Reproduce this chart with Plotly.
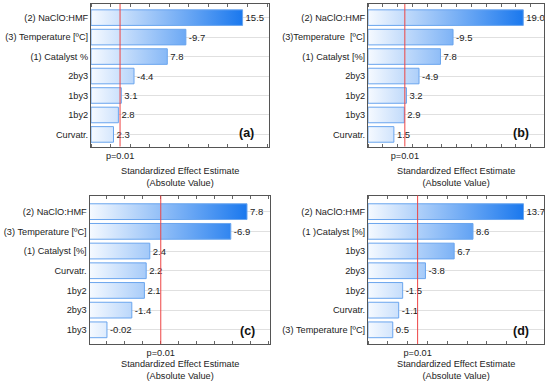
import plotly.graph_objects as go

# ---------------- data ----------------
labels_a = ["(2) NaClO:HMF", "(3) Temperature [ºC]", "(1) Catalyst %", "2by3", "1by3", "1by2", "Curvatr."]
values_a = [15.5, -9.7, 7.8, -4.4, 3.1, 2.8, 2.3]

labels_b = ["(2) NaClO:HMF", "(3)Temperature  [ºC]", "(1) Catalyst [%]", "2by3", "1by2", "1by3", "Curvatr."]
values_b = [19.0, -9.5, 7.8, -4.9, 3.2, 2.9, 1.5]

labels_c = ["(2) NaClO:HMF", "(3) Temperature [ºC]", "(1) Catalyst [%]", "Curvatr.", "1by2", "2by3", "1by3"]
values_c = [7.8, -6.9, 2.4, 2.2, 2.1, -1.4, -0.02]

labels_d = ["(2) NaClO:HMF", "(1 )Catalyst [%]", "1by3", "2by3", "1by2", "Curvatr.", "(3) Temperature [ºC]"]
values_d = [13.7, 8.6, 6.7, -3.8, -1.5, -1.1, 0.5]

panel_tags = ["(a)", "(b)", "(c)", "(d)"]
p_critical = [2.97, 2.98, 3.01, 3.01]
x_ranges = [[0, 18.2], [-2, 21.8], [-0.95, 9.05], [-2, 15.8]]
x_tick_step = [2, 2, 1, 2]
p_label = "p=0.01"
x_title = "Standardized Effect Estimate<br>(Absolute Value)"

# ---------------- styling / layout ----------------
FONT = "Liberation Sans, Arial, sans-serif"
TXT = "#222222"
FRAME = "#555555"
OUTLINE = "#6aa5ee"
GRAD = [[0, "#f6faff"], [1, "#1a78ee"]]
RED = "#ee4444"
W, H = 550, 385
FS = 9.2

# plot-area pixel boxes: (left, right, top, bottom)
boxes = [(91, 269, 4, 146.5), (368, 544, 4, 146.5),
         (89.5, 269.5, 195.5, 344), (368, 544.3, 195.5, 344)]
title_y = [177, 177, 369.5, 369.5]
y_ranges = [[6.62, -0.7], [6.62, -0.7], [6.72, -0.82], [6.72, -0.82]]

panels = [(labels_a, values_a), (labels_b, values_b), (labels_c, values_c), (labels_d, values_d)]

fig = go.Figure()
annotations = []
shapes = []
half = 0.4


def fmt(v):
    return f"{v:.2f}" if abs(v) < 0.1 else f"{v:.1f}"


for k, ((labels, values), box) in enumerate(zip(panels, boxes)):
    n = k + 1
    xa = "x" if n == 1 else f"x{n}"
    ya = "y" if n == 1 else f"y{n}"
    xmin, xmax = x_ranges[k]
    mags = [abs(v) for v in values]
    vmax = max(mags)
    pos = list(range(len(labels)))

    # invisible bars carrying the value labels
    fig.add_trace(go.Bar(
        orientation="h", y=pos, x=[m - xmin for m in mags], base=xmin, width=2 * half,
        marker=dict(color="rgba(0,0,0,0)", line=dict(width=0)),
        text=[fmt(v) for v in values], textposition="outside", constraintext="none",
        textfont=dict(family=FONT, size=FS + 0.3, color=TXT), cliponaxis=False,
        hoverinfo="skip", showlegend=False, xaxis=xa, yaxis=ya))

    # gradient-filled bar bodies
    for i, m in zip(pos, mags):
        fig.add_trace(go.Scatter(
            x=[xmin, m, m, xmin, xmin],
            y=[i - half, i - half, i + half, i + half, i - half],
            mode="lines", fill="toself",
            fillgradient=dict(type="horizontal", colorscale=GRAD, start=xmin, stop=vmax),
            line=dict(color=OUTLINE, width=1),
            hoverinfo="skip", showlegend=False, xaxis=xa, yaxis=ya))

    l, r, t, b = box
    xdom = [l / W, r / W]
    ydom = [1 - b / H, 1 - t / H]
    fig.layout[f"xaxis{'' if n == 1 else n}"] = dict(
        domain=xdom, range=[xmin, xmax], anchor=ya, automargin=False,
        tickvals=[p_critical[k]], ticktext=[p_label], ticks="",
        tickfont=dict(family=FONT, size=FS, color=TXT),
        showgrid=False, zeroline=False,
        showline=True, linecolor=FRAME, linewidth=1, mirror="ticks",
        minor=dict(ticks="inside", tick0=0, dtick=x_tick_step[k], ticklen=3,
                   tickcolor="#666666", showgrid=False),
    )
    fig.layout[f"yaxis{'' if n == 1 else n}"] = dict(
        domain=ydom, range=y_ranges[k], anchor=xa, automargin=False,
        tickvals=pos, ticktext=labels, ticks="",
        tickfont=dict(family=FONT, size=FS, color=TXT),
        showgrid=True, gridcolor="#e0e0e0", gridwidth=1, zeroline=False,
        showline=True, linecolor=FRAME, linewidth=1, mirror=True,
    )

    # p = 0.01 reference line
    shapes.append(dict(type="line", xref=xa, yref=f"{ya} domain",
                       x0=p_critical[k], x1=p_critical[k], y0=0, y1=1,
                       line=dict(color=RED, width=1)))
    # panel tag
    annotations.append(dict(xref=f"{xa} domain", yref=f"{ya} domain", x=1, y=0,
                            xanchor="right", yanchor="bottom", xshift=-13, yshift=4,
                            text=f"<b>{panel_tags[k]}</b>", showarrow=False,
                            font=dict(family=FONT, size=12.5, color="#111111")))
    # axis title
    annotations.append(dict(xref=f"{xa} domain", yref="paper", x=0.5,
                            y=1 - title_y[k] / H, xanchor="center", yanchor="middle",
                            text=x_title, showarrow=False,
                            font=dict(family=FONT, size=FS, color=TXT)))

fig.update_layout(width=W, height=H, margin=dict(l=0, r=0, t=0, b=0),
                  paper_bgcolor="white", plot_bgcolor="white",
                  barmode="overlay", shapes=shapes, annotations=annotations,
                  showlegend=False, hovermode=False)

fig.write_html(
    "out.html",
    config={"displayModeBar": False},
    post_script="document.body.style.margin='0';document.body.style.padding='0';"
                "document.body.style.overflow='hidden';",
)
